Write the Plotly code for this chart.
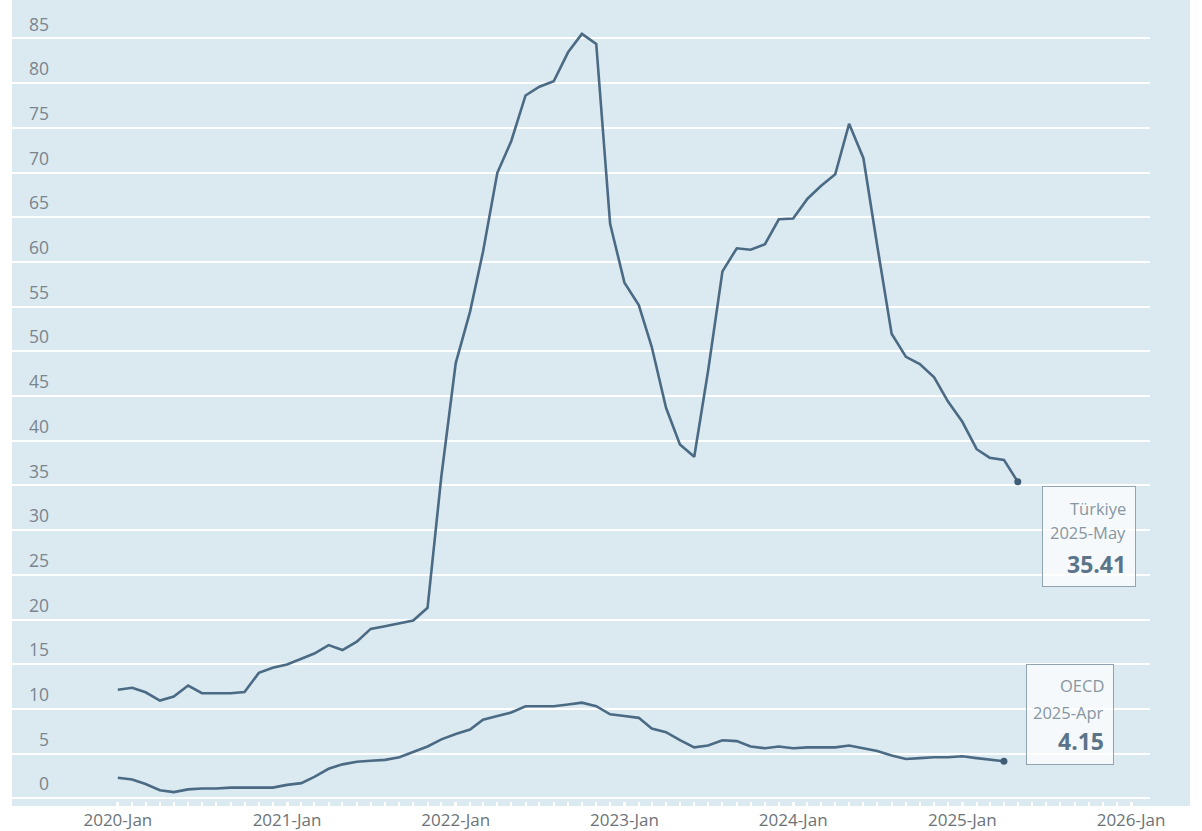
import pandas as pd
import plotly.graph_objects as go

# ---- data (monthly, year-on-year %) ----
start_month = "2020-01-01"
turkiye = [12.15, 12.37, 11.86, 10.94, 11.39, 12.62, 11.76, 11.77, 11.75, 11.89, 14.03, 14.60,
           14.97, 15.61, 16.19, 17.14, 16.59, 17.53, 18.95, 19.25, 19.58, 19.89, 21.31, 36.08,
           48.69, 54.44, 61.14, 69.97, 73.50, 78.62, 79.60, 80.21, 83.45, 85.51, 84.39, 64.27,
           57.68, 55.18, 50.51, 43.68, 39.59, 38.21, 47.83, 58.94, 61.53, 61.36, 61.98, 64.77,
           64.86, 67.07, 68.50, 69.80, 75.45, 71.60, 61.78, 51.97, 49.38, 48.58, 47.09, 44.38,
           42.12, 39.05, 38.10, 37.86, 35.41]
oecd = [2.3, 2.1, 1.6, 0.9, 0.7, 1.0, 1.1, 1.1, 1.2, 1.2, 1.2, 1.2,
        1.5, 1.7, 2.4, 3.3, 3.8, 4.1, 4.2, 4.3, 4.6, 5.2, 5.8, 6.6,
        7.2, 7.7, 8.8, 9.2, 9.6, 10.3, 10.3, 10.3, 10.5, 10.7, 10.3, 9.4,
        9.2, 9.0, 7.8, 7.4, 6.5, 5.7, 5.9, 6.5, 6.4, 5.8, 5.6, 5.8,
        5.6, 5.7, 5.7, 5.7, 5.9, 5.6, 5.3, 4.8, 4.4, 4.5, 4.6, 4.6,
        4.7, 4.5, 4.3, 4.15]
series_names = ["Türkiye", "OECD"]
last_labels = ["2025-May", "2025-Apr"]
y_ticks = list(range(0, 90, 5))
x_ticks = ["2020-01-01", "2021-01-01", "2022-01-01", "2023-01-01",
           "2024-01-01", "2025-01-01", "2026-01-01"]

# ---- styles ----
BG = "#dbe9f1"
LINE = "#4b6a84"
BOX_BORDER = "#8fa3b3"
LABEL_GRAY = "#8796a1"
VALUE_COL = "#5b7489"
FONT = "Open Sans"

t_dates = pd.date_range(start_month, periods=len(turkiye), freq="MS")
o_dates = pd.date_range(start_month, periods=len(oecd), freq="MS")
minor_months = pd.date_range("2020-02-01", "2025-12-01", freq="MS")

fig = go.Figure()
for dates, vals in [(t_dates, turkiye), (o_dates, oecd)]:
    fig.add_trace(go.Scatter(x=dates, y=vals, mode="lines",
                             line=dict(color=LINE, width=2.6), hoverinfo="skip",
                             showlegend=False))
    fig.add_trace(go.Scatter(x=[dates[-1]], y=[vals[-1]], mode="markers",
                             marker=dict(color="#3f5d75", size=7), hoverinfo="skip",
                             showlegend=False))

# light blue panel that extends past the plot area (right side + tick strip)
fig.add_shape(type="rect", xref="paper", yref="paper", x0=0, x1=1.0352,
              y0=-0.0062, y1=1, fillcolor=BG, line_width=0, layer="below")

def add_label(x, y, name, period, value, box_dx, box_dy, box_w, box_h,
              text_dx, dys):
    fig.add_annotation(x=x, y=y, xref="x", yref="y", text=" ", showarrow=False,
                       xanchor="left", yanchor="top", xshift=box_dx, yshift=box_dy,
                       width=box_w, height=box_h, bgcolor="rgba(255,255,255,0.72)",
                       bordercolor=BOX_BORDER, borderwidth=1, borderpad=0)
    for txt, dy, size, col in [(name, dys[0], 16.5, LABEL_GRAY),
                               (period, dys[1], 16.5, LABEL_GRAY),
                               ("<b>%s</b>" % value, dys[2], 23, VALUE_COL)]:
        fig.add_annotation(x=x, y=y, xref="x", yref="y", text=txt, showarrow=False,
                           xanchor="right", yanchor="middle", xshift=text_dx,
                           yshift=dy, font=dict(family=FONT, size=size, color=col))

add_label(t_dates[-1], turkiye[-1], series_names[0], last_labels[0],
          f"{turkiye[-1]:.2f}", 24, -4, 92, 99, 110, (-27, -51, -82))
add_label(o_dates[-1], oecd[-1], series_names[1], last_labels[1],
          f"{oecd[-1]:.2f}", 22, 97, 86, 99, 102, (76, 49, 20))

fig.update_layout(
    width=1202, height=831,
    margin=dict(l=12, r=52, t=0, b=28),
    paper_bgcolor="white", plot_bgcolor=BG,
    font=dict(family=FONT),
    xaxis=dict(type="date", range=["2019-05-17", "2026-02-11"],
               tickvals=x_ticks, tickformat="%Y-%b",
               ticks="outside", ticklen=6, tickwidth=3, tickcolor="white",
               tickfont=dict(size=17, color="#6c7378"), ticklabelstandoff=-2,
               showgrid=False, zeroline=False, showline=False,
               minor=dict(tickmode="array", tickvals=list(minor_months),
                          ticks="outside", ticklen=6, tickwidth=1.5,
                          tickcolor="white", showgrid=False)),
    yaxis=dict(range=[-0.3, 89.3], tickvals=y_ticks, anchor="free", position=0.0325,
               showgrid=True, gridcolor="white", gridwidth=2,
               zeroline=False, showline=False, ticks="",
               ticklabelshift=-14,
               tickfont=dict(size=17.5, color="#7a858e")),
)

fig.write_html("out.html", config={"displayModeBar": False},
               post_script="document.body.style.margin='0';")
